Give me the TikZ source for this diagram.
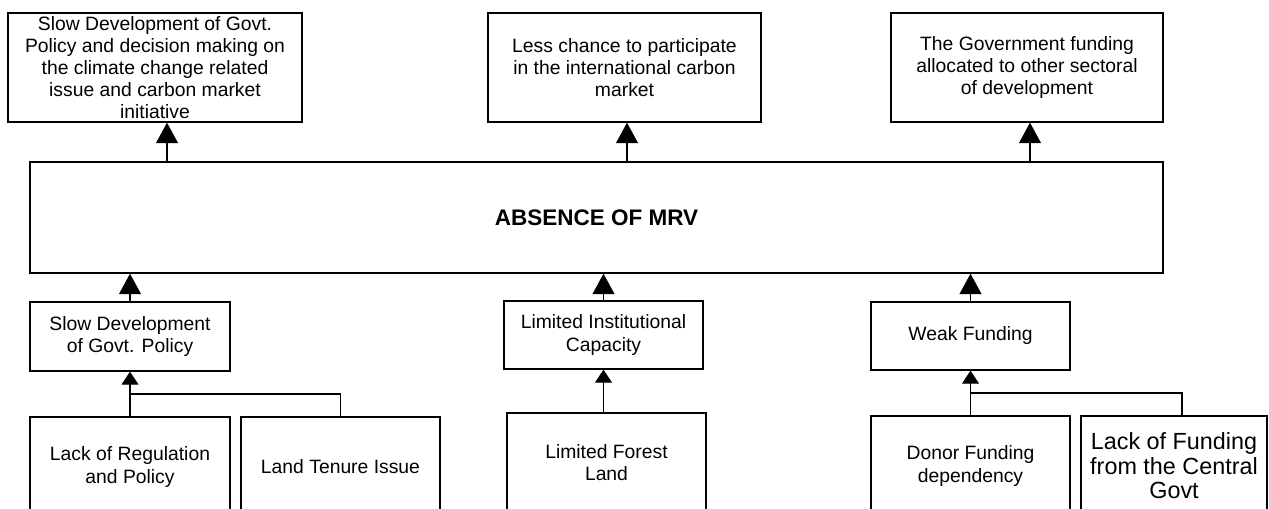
\documentclass[tikz,border=0pt]{standalone}
\usepackage{fontspec}
\setmainfont{Liberation Sans}
\usetikzlibrary{arrows.meta,calc,positioning}

\begin{document}
\begin{tikzpicture}[x=0.02cm,y=-0.02cm,>=Latex,
      bloque/.style={draw,line width=0.8pt,align=center,inner sep=1pt,
        font=\fontsize{11}{12.6}\selectfont},
      flecha/.style={line width=0.6pt,-{Triangle[width=0.44cm,length=0.41cm]}},
      flechita/.style={line width=0.6pt,-{Triangle[width=0.34cm,length=0.26cm]}},
      rama/.style={line width=0.6pt}]
  \useasboundingbox (0,0) rectangle (1269,509);
  \clip (0,0) rectangle (1269,509);

  % problema central
  \node[bloque,minimum width=22.66cm,minimum height=2.22cm,
        font=\fontsize{12.8}{15}\selectfont\bfseries] (nucleo) at (596.5,217.5) {ABSENCE OF MRV};

  % efectos (arriba)
  \foreach \n/\x/\w/\dx/\txt in {
      a/155/5.88/12/{Slow Development of Govt.\\Policy and decision making on\\the climate change related\\issue and carbon market\\initiative},
      b/624.5/5.46/2.5/{Less chance to participate\\in the international carbon\\market},
      c/1027/5.44/3/{The Government funding\\allocated to other sectoral\\of development}}{
    \node[bloque,minimum width=\w cm,minimum height=2.18cm] (ef\n) at (\x,67.5) {\txt};
    \coordinate (p\n) at ($(ef\n.south)+(\dx,0)$);
    \draw[flecha] (p\n |- nucleo.north) -- (p\n);
  }

  % causas directas
  \node[bloque,minimum width=4cm,minimum height=1.38cm] (causaA) at (130,336.5) {Slow Development\\of Govt. Policy};
  \node[bloque,minimum width=3.98cm,minimum height=1.36cm] (causaB) at (603.5,335) {Limited Institutional\\Capacity};
  \node[bloque,minimum width=3.98cm,minimum height=1.36cm] (causaC) at (970.5,336) {Weak Funding};
  \foreach \c in {A,B,C}
    \draw[flecha] (causa\c.north) -- (causa\c.north |- nucleo.south);

  % causas de fondo
  \node[bloque,minimum width=4cm,minimum height=2cm] (raizA1) at (130,467) {Lack of Regulation\\and Policy};
  \node[bloque,minimum width=3.98cm,minimum height=2cm] (raizA2) at (340.5,467) {Land Tenure Issue};
  \node[bloque,minimum width=3.98cm,minimum height=2cm] (raizB) at (606.5,463) {Limited Forest\\Land};
  \node[bloque,minimum width=3.98cm,minimum height=2cm] (raizC1) at (970.5,466) {Donor Funding\\dependency};
  \node[bloque,minimum width=3.72cm,minimum height=2cm,
        font=\fontsize{13.3}{14}\selectfont] (raizC2) at (1174,466) {Lack of Funding\\from the Central\\Govt};

  \draw[flechita] (raizA1.north) -- (causaA.south);
  \draw[rama] (raizA2.north) |- ($(causaA.south)!0.5!(raizA1.north)$);
  \draw[flechita] (causaB.south |- raizB.north) -- (causaB.south);
  \draw[flechita] (raizC1.north) -- (causaC.south);
  \draw[rama] ([xshift=0.16cm]raizC2.north) |- ($(causaC.south)!0.5!(raizC1.north)$);
\end{tikzpicture}
\end{document}
